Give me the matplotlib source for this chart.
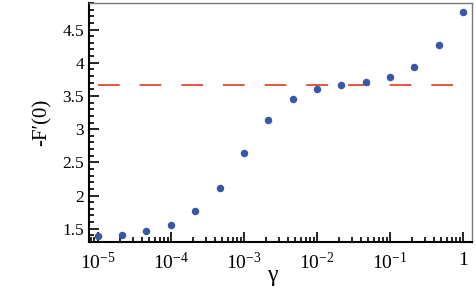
import matplotlib
matplotlib.use("Agg")
import matplotlib.pyplot as plt
from matplotlib.ticker import FixedLocator, LogLocator, NullFormatter, MultipleLocator

plt.rcParams['font.family'] = ['Liberation Serif', 'DejaVu Serif']
plt.rcParams['mathtext.fontset'] = 'custom'
plt.rcParams['mathtext.rm'] = 'Liberation Serif'
plt.rcParams['mathtext.it'] = 'Liberation Serif:italic'

# datos
gamma = [1e-5, 2.15e-5, 4.64e-5, 1e-4, 2.15e-4, 4.64e-4, 1e-3, 2.15e-3, 4.64e-3,
         1e-2, 2.15e-2, 4.64e-2, 1e-1, 2.15e-1, 4.64e-1, 1.0]
fprime = [1.384, 1.41, 1.46, 1.56, 1.77, 2.12, 2.634, 3.14, 3.45,
          3.60, 3.67, 3.715, 3.785, 3.94, 4.265, 4.765]
asymptote = 3.66
xticks = [1e-5, 1e-4, 1e-3, 1e-2, 1e-1, 1.0]
xticklabels = ['$10^{-5}$', '$10^{-4}$', '$10^{-3}$', '$10^{-2}$', '$10^{-1}$', '1']
yticks = [1.5, 2, 2.5, 3, 3.5, 4, 4.5]
yticklabels = ['1.5', '2', '2.5', '3', '3.5', '4', '4.5']

fig = plt.figure(figsize=(4.77, 2.92), dpi=100)
ax = fig.add_axes([0.1866, 0.1712, 0.9895 - 0.1866, 0.9897 - 0.1712])

ax.plot([gamma[0], gamma[-1]], [asymptote, asymptote], color='#e03a22', lw=1.2,
        dashes=(13, 12))
ax.plot(gamma, fprime, 'o', color='#3a56a8', ms=5.4, mec='none')

ax.set_xscale('log')
ax.set_xlim(10**-5.12, 10**0.12)
ax.set_ylim(1.3, 4.9)

ax.xaxis.set_major_locator(FixedLocator(xticks))
ax.set_xticklabels(xticklabels)
ax.xaxis.set_minor_locator(LogLocator(base=10, subs=range(2, 10), numticks=20))
ax.xaxis.set_minor_formatter(NullFormatter())
ax.set_yticks(yticks)
ax.set_yticklabels(yticklabels)
ax.yaxis.set_minor_locator(MultipleLocator(0.1))

ax.tick_params(which='both', direction='in', top=False, right=False, width=1.2)
ax.tick_params(axis='y', labelsize=12.5)
ax.tick_params(axis='x', labelsize=14, pad=7)
ax.tick_params(which='major', length=7)
ax.tick_params(which='minor', length=3.5)

for s in ['left', 'bottom']:
    ax.spines[s].set_linewidth(1.5)
    ax.spines[s].set_color('black')
for s in ['top', 'right']:
    ax.spines[s].set_linewidth(1.0)
    ax.spines[s].set_color('#777777')

ax.set_xlabel('γ', fontsize=17)
ax.xaxis.set_label_coords(0.478, -0.095)
ax.set_ylabel('-F\u2032(0)', fontsize=15, labelpad=8)

fig.savefig('out.png', dpi=100)
